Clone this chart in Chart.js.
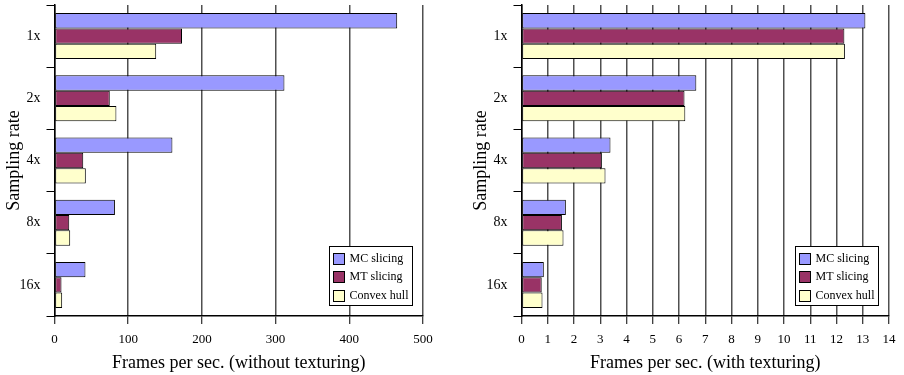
<!DOCTYPE html>
<html>
<head>
<meta charset="utf-8">
<script src="https://cdn.jsdelivr.net/npm/chart.js@4/dist/chart.umd.min.js"></script>
<style>
  html, body { margin: 0; padding: 0; background: #fff; }
  #wrap { position: relative; width: 904px; height: 375px; overflow: hidden; }
  canvas { position: absolute; top: 0; }
  #left { left: 0; }
  #right { left: 452px; }
</style>
</head>
<body>
<div id="wrap">
  <canvas id="left" width="452" height="375"></canvas>
  <canvas id="right" width="452" height="375"></canvas>
</div>
<script>
// Sampling rates (categories)
const samplingRates = ['1x', '2x', '4x', '8x', '16x'];
const seriesNames = ['MC slicing', 'MT slicing', 'Convex hull'];

// Frames per second without texturing
const mcNoTex = [465, 312, 160, 82, 42];
const mtNoTex = [173, 75, 39, 20, 9.5];
const chNoTex = [138, 84, 42.5, 21.3, 10.4];

// Frames per second with texturing
const mcTex = [13.1, 6.66, 3.39, 1.69, 0.85];
const mtTex = [12.3, 6.21, 3.06, 1.54, 0.77];
const chTex = [12.32, 6.24, 3.2, 1.6, 0.8];

// Axis ranges
const noTexMax = 500, noTexStep = 100;
const texMax = 14, texStep = 1;

const FONT = '"Liberation Serif", "Times New Roman", Times, serif';
const COLORS = ['#9999FF', '#993366', '#FFFFCC'];

// Boxed legend drawn inside the lower-right corner of the plot
const boxLegend = {
  id: 'boxLegend',
  afterDraw(chart) {
    const ctx = chart.ctx;
    const area = chart.chartArea;
    const w = 83, h = 59;
    const x = Math.round(area.right - 11 - w) + 0.5;
    const y = Math.round(area.bottom - 11 - h) + 0.5;
    ctx.save();
    ctx.fillStyle = '#fff';
    ctx.fillRect(x, y, w, h);
    ctx.strokeStyle = '#000';
    ctx.lineWidth = 1;
    ctx.strokeRect(x, y, w, h);
    ctx.font = '12px ' + FONT;
    ctx.textBaseline = 'middle';
    ctx.textAlign = 'left';
    chart.data.datasets.forEach((ds, i) => {
      const cy = y + 11.5 + i * 18.8;
      ctx.fillStyle = ds.backgroundColor;
      ctx.fillRect(x + 4, Math.round(cy - 5.5) + 0.5, 11, 11);
      ctx.strokeRect(x + 4, Math.round(cy - 5.5) + 0.5, 11, 11);
      ctx.fillStyle = '#000';
      ctx.fillText(ds.label, x + 20, cy + 0.5);
    });
    ctx.restore();
  }
};

function makeChart(id, values, max, step, xTitle, padLeft, padRight) {
  return new Chart(document.getElementById(id), {
    type: 'bar',
    data: {
      labels: samplingRates,
      datasets: values.map((v, i) => ({
        label: seriesNames[i],
        data: v,
        backgroundColor: COLORS[i],
        borderColor: '#000',
        borderWidth: 1,
        borderSkipped: false,
        categoryPercentage: 0.74,
        barPercentage: 1.0
      }))
    },
    options: {
      indexAxis: 'y',
      responsive: false,
      animation: false,
      devicePixelRatio: 1,
      layout: { padding: { top: 5, right: padRight, bottom: 0, left: padLeft } },
      plugins: { legend: { display: false }, tooltip: { enabled: false } },
      scales: {
        x: {
          min: 0,
          max: max,
          ticks: { stepSize: step, color: '#000', font: { family: FONT, size: 13 }, padding: 8, maxRotation: 0 },
          grid: { color: '#505050', lineWidth: 1.5, tickColor: '#000', tickWidth: 1, tickLength: 8 },
          border: { display: true, color: '#000', width: 1.5 },
          title: { display: true, text: xTitle, color: '#000', font: { family: FONT, size: 18 }, padding: { top: 0, bottom: 1 } },
          afterFit(scale) { scale.height = 59; scale.paddingLeft = 0; scale.paddingRight = 0; }
        },
        y: {
          ticks: { color: '#000', font: { family: FONT, size: 14 }, padding: 6 },
          grid: { offset: true, drawOnChartArea: false, drawTicks: true, tickLength: 8, tickColor: '#000', tickWidth: 1 },
          border: { display: true, color: '#000', width: 1.5 },
          title: { display: true, text: 'Sampling rate', color: '#000', font: { family: FONT, size: 18 }, padding: { top: 3, bottom: 0 } },
          afterFit(scale) { scale.width = 54.5; scale.paddingTop = 0; scale.paddingBottom = 0; }
        }
      }
    },
    plugins: [boxLegend]
  });
}

makeChart('left', [mcNoTex, mtNoTex, chNoTex], noTexMax, noTexStep,
  'Frames per sec. (without texturing)', 0, 29);
makeChart('right', [mcTex, mtTex, chTex], texMax, texStep,
  'Frames per sec. (with texturing)', 15, 15);
</script>
</body>
</html>
